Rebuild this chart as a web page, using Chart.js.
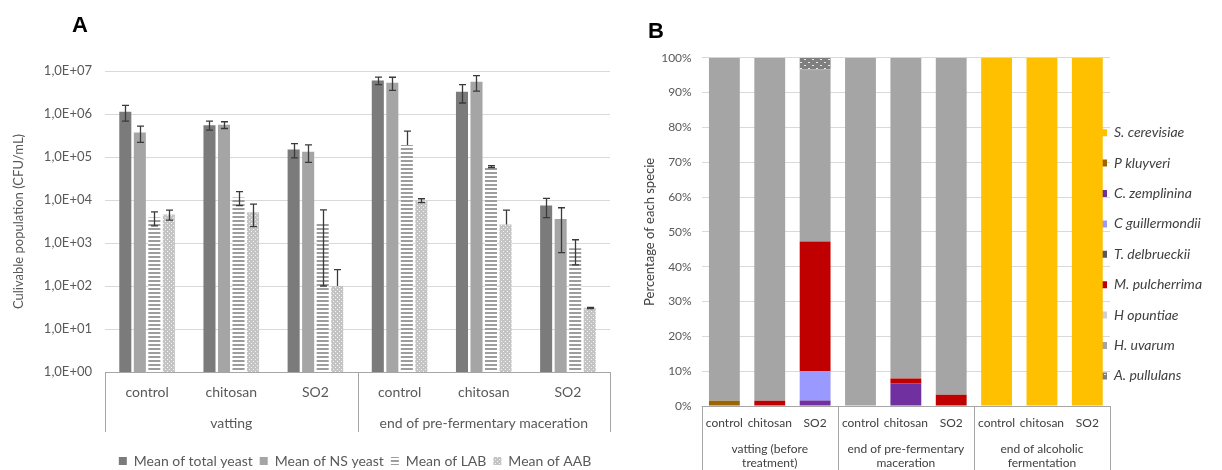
<!DOCTYPE html>
<html>
<head>
<meta charset="utf-8">
<script src="https://cdn.jsdelivr.net/npm/chart.js@4.4.1/dist/chart.umd.min.js"></script>
<style>
  html, body { margin: 0; padding: 0; background: #fff; }
  body { width: 1222px; height: 470px; position: relative; overflow: hidden; font-family: Lato, sans-serif; }
  #wrapA { position: absolute; left: 0; top: 0; width: 620px; height: 470px; }
  #wrapB { position: absolute; left: 630px; top: 0; width: 592px; height: 470px; }
  .panel-label { position: absolute; font: bold 22px "Liberation Sans", Arial, sans-serif; line-height: 1; color: #000; }
</style>
</head>
<body>
<div id="wrapA"><canvas id="chartA"></canvas></div>
<div id="wrapB"><canvas id="chartB"></canvas></div>
<div class="panel-label" style="left:72px;top:14px">A</div>
<div class="panel-label" style="left:648px;top:20px">B</div>

<script>
// ---------- Panel A: culturable populations (log scale) ----------
const treatmentsA = ['control', 'chitosan', 'SO2', 'control', 'chitosan', 'SO2'];
const stagesA = [['vatting'], ['end of pre-fermentary maceration']];
const stageSizeA = [3, 3];

const totalYeast   = [1.13e6, 5.5e5, 1.5e5, 6.0e6, 3.3e6, 7.4e3];
const totalYeastSd = [4.5e5, 1.3e5, 5.5e4, 1.2e6, 1.5e6, 3.5e3];
const nsYeast      = [3.7e5, 5.6e5, 1.33e5, 5.35e6, 5.6e6, 3.6e3];
const nsYeastSd    = [1.5e5, 1.0e5, 5.8e4, 1.8e6, 2.2e6, 3.0e3];
const lab          = [3.9e3, 1.15e4, 3.0e3, 1.9e5, 6.0e4, 750];
const labSd        = [1.4e3, 4.1e3, 2.9e3, 2.1e5, 3.0e3, 440];
const aab          = [4.6e3, 5.2e3, 100, 9.7e3, 2.7e3, 31];
const aabSd        = [1.2e3, 2.8e3, 140, 1.0e3, 3.1e3, 1];

const yTickValuesA = [1, 10, 100, 1e3, 1e4, 1e5, 1e6, 1e7];
const yTickLabelsA = ['1,0E+00', '1,0E+01', '1,0E+02', '1,0E+03', '1,0E+04', '1,0E+05', '1,0E+06', '1,0E+07'];

// ---------- Panel B: species distribution (100 % stacked) ----------
const treatmentsB = ['control', 'chitosan', 'SO2', 'control', 'chitosan', 'SO2', 'control', 'chitosan', 'SO2'];
const stagesB = [['vatting (before', 'treatment)'], ['end of pre-fermentary', 'maceration'], ['end of alcoholic', 'fermentation']];
const stageSizeB = [3, 3, 3];

const speciesNames = ['S. cerevisiae', 'P kluyveri', 'C. zemplinina', 'C guillermondii', 'T. delbrueckii',
                      'M. pulcherrima', 'H opuntiae', 'H. uvarum', 'A. pullulans'];
const sCerevisiae    = [0, 0, 0, 0, 0, 0, 100, 100, 100];
const pKluyveri      = [1.5, 0, 0, 0, 0, 0, 0, 0, 0];
const cZemplinina    = [0, 0, 1.6, 0, 6.5, 0, 0, 0, 0];
const cGuillermondii = [0, 0, 8.4, 0, 0, 0, 0, 0, 0];
const tDelbrueckii   = [0, 0, 0, 0, 0, 0, 0, 0, 0];
const mPulcherrima   = [0, 1.5, 37.2, 0, 1.4, 3.2, 0, 0, 0];
const hOpuntiae      = [0, 0, 0, 0, 0, 0, 0, 0, 0];
const hUvarum        = [98.5, 98.5, 49.5, 100, 92.1, 96.8, 0, 0, 0];
const aPullulans     = [0, 0, 3.3, 0, 0, 0, 0, 0, 0];
const yTickValuesB = [0, 10, 20, 30, 40, 50, 60, 70, 80, 90, 100];

Chart.defaults.font.family = 'Lato, "Open Sans", sans-serif';
Chart.defaults.color = '#595959';

// ---------- fill patterns ----------
function makePattern(w, h, bg, paint) {
  const c = document.createElement('canvas');
  c.width = w; c.height = h;
  const g = c.getContext('2d');
  g.fillStyle = bg; g.fillRect(0, 0, w, h);
  paint(g);
  return g.createPattern(c, 'repeat');
}
const stripes = makePattern(4, 4, '#ffffff', g => { g.fillStyle = '#9d9d9d'; g.fillRect(0, 0, 4, 2); });
const lightDots = makePattern(4, 4, '#c4c4c4', g => { g.fillStyle = '#f4f4f4'; g.fillRect(1, 1, 1, 1); g.fillRect(3, 3, 1, 1); });
const darkDots = makePattern(8, 6, '#7f7f7f', g => { g.fillStyle = '#e8e8e8'; g.fillRect(2, 2, 2, 1); g.fillRect(6, 5, 2, 1); });

// ---------- plugins ----------
// Two-level category axis: boxed group labels under the tick labels.
function groupedAxis(id, groups, sizes, style) {
  return {
    id,
    afterDraw(chart) {
      const { ctx, chartArea: a, scales: { x } } = chart;
      const edges = [x.getPixelForValue(-0.5)];
      let n = 0;
      sizes.forEach(s => { n += s; edges.push(x.getPixelForValue(n - 0.5)); });
      ctx.save();
      ctx.strokeStyle = style.lineColor;
      ctx.lineWidth = 1;
      ctx.beginPath();
      ctx.moveTo(a.left, Math.round(a.bottom) + 0.5);
      ctx.lineTo(a.right, Math.round(a.bottom) + 0.5);
      edges.forEach(px => {
        const xx = Math.round(px) + 0.5;
        ctx.moveTo(xx, a.bottom);
        ctx.lineTo(xx, a.bottom + style.depth);
      });
      ctx.stroke();
      ctx.fillStyle = style.color;
      ctx.font = style.font;
      ctx.textAlign = 'center';
      ctx.textBaseline = 'middle';
      groups.forEach((lines, i) => {
        const cx = (edges[i] + edges[i + 1]) / 2;
        lines.forEach((t, k) => ctx.fillText(t, cx, a.bottom + style.firstLine + k * style.lineGap));
      });
      ctx.restore();
    }
  };
}

// Standard-deviation whiskers on the log-scale bars.
const whiskers = {
  id: 'whiskers',
  afterDatasetsDraw(chart) {
    const { ctx, scales: { y } } = chart;
    ctx.save();
    ctx.strokeStyle = '#3a3a3a';
    ctx.lineWidth = 1.3;
    chart.data.datasets.forEach((ds, i) => {
      const meta = chart.getDatasetMeta(i);
      ds.spread.forEach((sd, j) => {
        const v = ds.data[j];
        const bar = meta.data[j];
        const xx = Math.round(bar.x) + 0.5;
        const top = y.getPixelForValue(v + sd);
        const hasLow = v - sd > 0;
        const low = hasLow ? y.getPixelForValue(v - sd) : bar.y;
        ctx.beginPath();
        ctx.moveTo(xx, top); ctx.lineTo(xx, low);
        ctx.moveTo(xx - 3.5, top); ctx.lineTo(xx + 3.5, top);
        if (hasLow) { ctx.moveTo(xx - 3.5, low); ctx.lineTo(xx + 3.5, low); }
        ctx.stroke();
      });
    });
    ctx.restore();
  }
};

function moveLegend(id, place) {
  return {
    id,
    afterLayout(chart) {
      const lg = chart.legend;
      const w = lg.right - lg.left, h = lg.bottom - lg.top;
      const p = place(chart, lg);
      lg.left = p.left; lg.right = p.left + w;
      lg.top = p.top; lg.bottom = p.top + h;
    }
  };
}

// ---------- Chart A ----------
const barA = (label, data, spread, color) => ({
  label, data, spread, backgroundColor: color, borderWidth: 0,
  categoryPercentage: 0.69, barPercentage: 0.83
});

new Chart(document.getElementById('chartA'), {
  type: 'bar',
  data: {
    labels: treatmentsA,
    datasets: [
      barA('Mean of total yeast', totalYeast, totalYeastSd, '#7b7b7b'),
      barA('Mean of NS yeast', nsYeast, nsYeastSd, '#a5a5a5'),
      barA('Mean of LAB', lab, labSd, stripes),
      barA('Mean of AAB', aab, aabSd, lightDots)
    ]
  },
  options: {
    responsive: true,
    maintainAspectRatio: false,
    animation: false,
    devicePixelRatio: 1,
    layout: { padding: { top: 71, right: 10, left: 0, bottom: 0 } },
    plugins: {
      tooltip: { enabled: false },
      legend: {
        position: 'bottom',
        labels: { boxWidth: 8, boxHeight: 8, padding: 7, color: '#595959', font: { size: 14 } }
      }
    },
    scales: {
      x: {
        grid: { display: false, drawTicks: false },
        border: { display: false },
        ticks: { padding: 12, color: '#595959', font: { size: 14 }, autoSkip: false, maxRotation: 0 },
        afterFit(scale) { scale.height = 470 - 372 - scale.chart.legend.height; }
      },
      y: {
        type: 'logarithmic',
        min: 1,
        max: 1e7,
        grid: { color: '#d9d9d9', drawTicks: false },
        border: { display: false },
        afterBuildTicks(scale) { scale.ticks = yTickValuesA.map(v => ({ value: v, major: true })); },
        ticks: {
          padding: 13, color: '#595959', font: { size: 13 }, autoSkip: false,
          callback: (v, i) => yTickLabelsA[i]
        },
        title: {
          display: true, text: 'Culivable population (CFU/mL)', color: '#595959',
          font: { size: 13 }, padding: { top: 11, bottom: 0 }
        },
        afterFit(scale) { scale.width = 105; }
      }
    }
  },
  plugins: [
    whiskers,
    groupedAxis('stageAxisA', stagesA, stageSizeA, {
      lineColor: '#a6a6a6', depth: 60, color: '#595959', font: '14px Lato', firstLine: 51, lineGap: 16
    }),
    moveLegend('legendPosA', (chart, lg) => ({ left: lg.left + 50, top: 447 }))
  ]
});

// ---------- Chart B ----------
const speciesColors = ['#ffc000', '#9c6500', '#7030a0', '#9999ff', '#595959', '#c00000', '#d0d0d0', '#a5a5a5', darkDots];
const speciesData = [sCerevisiae, pKluyveri, cZemplinina, cGuillermondii, tDelbrueckii,
                     mPulcherrima, hOpuntiae, hUvarum, aPullulans];

new Chart(document.getElementById('chartB'), {
  type: 'bar',
  data: {
    labels: treatmentsB,
    datasets: speciesNames.map((name, i) => ({
      label: name,
      data: speciesData[i],
      backgroundColor: speciesColors[i],
      borderWidth: 0,
      categoryPercentage: 1,
      barPercentage: 0.68
    }))
  },
  options: {
    responsive: true,
    maintainAspectRatio: false,
    animation: false,
    devicePixelRatio: 1,
    layout: { padding: { top: 57.7, right: 112, left: 0, bottom: 0 } },
    plugins: {
      tooltip: { enabled: false },
      legend: {
        position: 'chartArea',
        align: 'start',
        labels: {
          boxWidth: 7, boxHeight: 7, padding: 16.4, color: '#404040',
          font: { size: 14, style: 'italic' }
        }
      }
    },
    scales: {
      x: {
        stacked: true,
        grid: { display: false, drawTicks: false },
        border: { display: false },
        ticks: { padding: 10, color: '#404040', font: { size: 12 }, autoSkip: false, maxRotation: 0 },
        afterFit(scale) { scale.height = 470 - 406; }
      },
      y: {
        stacked: true,
        min: 0,
        max: 100,
        grid: { color: '#d9d9d9', drawTicks: false },
        border: { display: false },
        afterBuildTicks(scale) { scale.ticks = yTickValuesB.map(v => ({ value: v })); },
        ticks: { padding: 10, color: '#595959', font: { size: 12 }, autoSkip: false, callback: v => v + '%' },
        title: {
          display: true, text: 'Percentage of each specie', color: '#404040',
          font: { size: 13 }, padding: { top: 12, bottom: 0 }
        },
        afterFit(scale) { scale.width = 71.7; }
      }
    }
  },
  plugins: [
    groupedAxis('stageAxisB', stagesB, stageSizeB, {
      lineColor: '#a6a6a6', depth: 70, color: '#404040', font: '12px Lato', firstLine: 43, lineGap: 14
    }),
    moveLegend('legendPosB', () => ({ left: 470 - 16.4, top: 109.3 }))
  ]
});
</script>
</body>
</html>
